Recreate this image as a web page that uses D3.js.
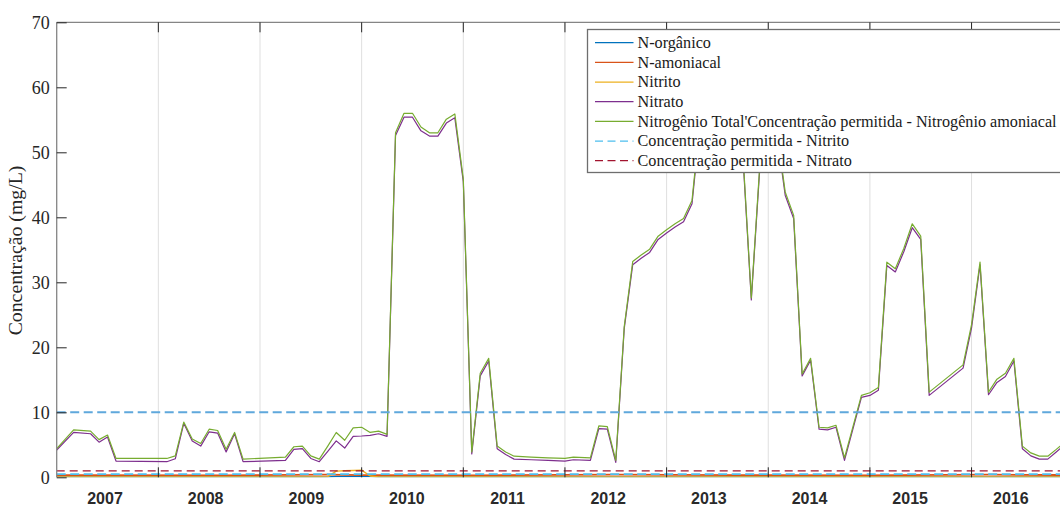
<!DOCTYPE html>
<html>
<head>
<meta charset="utf-8">
<script src="https://cdn.jsdelivr.net/npm/d3@7"></script>
<style>
  html, body { margin: 0; padding: 0; background: #fff; }
  svg { display: block; }
</style>
</head>
<body>
<div id="chart"></div>
<script>
// months counted from Jan 2007
const months = [0, 2, 4, 5, 6, 7, 13, 14, 15, 16, 17, 18, 19, 20, 21, 22, 27, 28, 29, 30,
  31, 32, 33, 34, 35, 36, 37, 38, 39, 40, 41, 42, 43, 44, 45, 46, 47, 48, 49, 50,
  51, 52, 53, 54, 56, 58, 60, 61, 63, 64, 65, 66, 67, 68, 69, 70, 71, 72, 73, 74,
  75, 76, 77, 78, 79, 80, 81, 82, 83, 84, 85, 86, 87, 88, 89, 90, 91, 92, 93, 95,
  96, 97, 98, 99, 100, 101, 102, 103, 107, 108, 109, 110, 111, 112, 113, 114, 115, 116, 117, 118, 119]

const nitrogenioTotal = [4.4, 7.3, 7.1, 5.8, 6.5, 2.9, 2.9, 3.3, 8.5, 5.9, 5.2, 7.4, 7.2, 4.3, 6.9, 2.8, 3.1, 4.7, 4.8, 3.3,
  2.8, 4.8, 6.9, 5.7, 7.6, 7.7, 6.9, 7.1, 6.6, 53.0, 56.0, 56.0, 53.9, 53.0, 53.0, 55.1, 55.9, 45.9, 3.9, 16.0,
  18.3, 4.8, 3.9, 3.25, 3.1, 3.0, 2.9, 3.1, 3.0, 7.9, 7.8, 2.6, 23.2, 33.2, 34.2, 35.1, 37.1, 38.1, 39.0, 39.8,
  42.6, 55.5, 57, 58, 56, 54, 50, 27.6, 48, 52, 53.5, 43.9, 40.3, 15.9, 18.3, 7.7, 7.6, 8.0, 3.0, 12.6,
  13.0, 13.8, 33.1, 32.1, 35.2, 39.0, 37.1, 13.1, 17.3, 23.5, 33.1, 13.1, 15.1, 16.0, 18.3, 4.8, 3.75, 3.25, 3.25, 4.3, 5.4]

const nitrato = [4.2, 6.9, 6.7, 5.4, 6.2, 2.5, 2.4, 2.85, 8.3, 5.6, 4.8, 7.0, 6.8, 3.9, 6.7, 2.4, 2.6, 4.3, 4.4, 2.9,
  2.4, 4.0, 5.6, 4.5, 6.3, 6.35, 6.45, 6.7, 6.3, 52.6, 55.4, 55.4, 53.3, 52.5, 52.5, 54.5, 55.3, 45.5, 3.6, 15.6,
  17.9, 4.4, 3.5, 2.8, 2.7, 2.6, 2.5, 2.7, 2.6, 7.5, 7.4, 2.3, 22.9, 32.7, 33.7, 34.6, 36.6, 37.6, 38.5, 39.3,
  42.1, 55.0, 56.5, 57.5, 55.5, 53.5, 49.5, 27.3, 47.5, 51.5, 53.0, 43.4, 39.8, 15.6, 18.0, 7.4, 7.3, 7.7, 2.6, 12.3,
  12.6, 13.4, 32.6, 31.6, 34.7, 38.4, 36.6, 12.6, 16.8, 23.0, 32.7, 12.7, 14.6, 15.5, 17.9, 4.4, 3.3, 2.8, 2.8, 3.9, 5.0]

const organicoMonths = [0, 32, 33, 37, 38, 119]
const nOrganico = [0.05, 0.05, 0.12, 0.12, 0.05, 0.05]

const amoniacalMonths = [0, 20, 32, 36, 50, 66, 80, 95, 110, 119]
const nAmoniacal = [0.35, 0.3, 0.4, 0.35, 0.3, 0.4, 0.35, 0.3, 0.4, 0.35]

const nitritoMonths = [0, 31, 32, 33, 34, 35, 36, 37, 38, 119]
const nitrito = [0.05, 0.05, 0.1, 0.95, 1.0, 1.05, 1.1, 0.2, 0.05, 0.05]

const limitValues = [10, 0.5, 1.0]
const years = [2007, 2008, 2009, 2010, 2011, 2012, 2013, 2014, 2015, 2016]
const yTicks = [0, 10, 20, 30, 40, 50, 60, 70]

const legendLabels = ['N-orgânico', 'N-amoniacal', 'Nitrito', 'Nitrato',
  "Nitrogênio Total'Concentração permitida - Nitrogênio amoniacal",
  'Concentração permitida - Nitrito', 'Concentração permitida - Nitrato']

const colors = {
  organico: '#0072BD',
  amoniacal: '#D95319',
  nitrito: '#EDB120',
  nitrato: '#7E2F8E',
  total: '#77AC30',
  limNitrito: '#4DBEEE',
  limNitrato: '#A2142F',
  lim10: '#5FA8DC'
}

const margin = { top: 22.3, right: 0, bottom: 30.7, left: 56.7 }
const svgWidth = 1060
const svgHeight = 508
const width = 1016.5
const height = svgHeight - margin.top - margin.bottom

const svg = d3.select('#chart')
  .append('svg')
  .attr('width', svgWidth)
  .attr('height', svgHeight)
  .append('g')
  .attr('transform', `translate(${margin.left},${margin.top})`)

const x = d3.scaleLinear().domain([0, 120]).range([0, width])
const y = d3.scaleLinear().domain([0, 70]).range([height, 0])
const labelX = d3.scaleLinear().domain([2007, 2016]).range([48.3, 954.1])

const serif = "'Liberation Serif', 'Times New Roman', serif"
const sans = "'Liberation Sans', Arial, sans-serif"

svg.append('clipPath').attr('id', 'clip')
  .append('rect').attr('width', width).attr('height', height)

// vertical year grid
const yearStarts = years.slice(1).map((d, i) => (i + 1) * 12)
svg.append('g')
  .selectAll('line')
  .data(yearStarts)
  .enter()
  .append('line')
  .attr('x1', d => x(d)).attr('x2', d => x(d))
  .attr('y1', 0).attr('y2', height)
  .attr('stroke', '#dfdfdf')
  .attr('stroke-width', 1)

const line = d3.line().x(d => x(d[0])).y(d => y(d[1]))
const plot = svg.append('g').attr('clip-path', 'url(#clip)')

const series = [
  { m: organicoMonths, v: nOrganico, c: colors.organico, w: 1.4 },
  { m: amoniacalMonths, v: nAmoniacal, c: colors.amoniacal, w: 1.8 },
  { m: nitritoMonths, v: nitrito, c: colors.nitrito, w: 1.4 },
  { m: months, v: nitrato, c: colors.nitrato, w: 1.2 },
  { m: months, v: nitrogenioTotal, c: colors.total, w: 1.2 }
]

series.forEach(s => {
  plot.append('path')
    .datum(s.m.map((d, i) => [d, s.v[i]]))
    .attr('d', line)
    .attr('fill', 'none')
    .attr('stroke', s.c)
    .attr('stroke-width', s.w)
    .attr('stroke-linejoin', 'round')
})

const limits = [
  { v: limitValues[0], c: colors.lim10, w: 2, dash: '9,4.5' },
  { v: limitValues[1], c: colors.limNitrito, w: 1.8, dash: '9,4.5' },
  { v: limitValues[2], c: colors.limNitrato, w: 1.3, dash: '8,5' }
]

plot.selectAll('.limit')
  .data(limits)
  .enter()
  .append('line')
  .attr('x1', 0).attr('x2', width)
  .attr('y1', d => y(d.v)).attr('y2', d => y(d.v))
  .attr('stroke', d => d.c)
  .attr('stroke-width', d => d.w)
  .attr('stroke-dasharray', d => d.dash)

// axes frame
svg.append('line').attr('x1', 0).attr('x2', width).attr('y1', 0).attr('y2', 0)
  .attr('stroke', '#858585').attr('stroke-width', 1.3)
svg.append('line').attr('x1', 0).attr('x2', 0).attr('y1', 0).attr('y2', height)
  .attr('stroke', '#858585').attr('stroke-width', 1.3)

const yAxis = svg.append('g')
  .call(d3.axisLeft(y).tickValues(yTicks).tickSizeInner(-10).tickSizeOuter(0).tickPadding(7))
yAxis.select('.domain').remove()
yAxis.selectAll('line').attr('stroke', '#262626')
yAxis.selectAll('text')
  .attr('font-family', serif)
  .attr('font-size', '18px')
  .attr('fill', '#262626')

const tickGroup = svg.append('g')
tickGroup.selectAll('.top')
  .data(yearStarts)
  .enter()
  .append('line')
  .attr('x1', d => x(d)).attr('x2', d => x(d))
  .attr('y1', 0).attr('y2', 10)
  .attr('stroke', '#262626')
tickGroup.selectAll('.bottom')
  .data(yearStarts)
  .enter()
  .append('line')
  .attr('x1', d => x(d)).attr('x2', d => x(d))
  .attr('y1', height - 10).attr('y2', height)
  .attr('stroke', '#262626')

svg.append('g')
  .selectAll('text')
  .data(years)
  .enter()
  .append('text')
  .text(d => d)
  .attr('x', d => labelX(d))
  .attr('y', height + 26.7)
  .attr('text-anchor', 'middle')
  .attr('font-family', sans)
  .attr('font-size', '16px')
  .attr('font-weight', 'bold')
  .attr('fill', '#2a2a2a')

svg.append('text')
  .text('Concentração (mg/L)')
  .attr('transform', `translate(${-35.2},${height / 2 + 0.7}) rotate(-90)`)
  .attr('text-anchor', 'middle')
  .attr('font-family', serif)
  .attr('font-size', '19.8px')
  .attr('fill', '#262626')

// legend
const legendColors = [colors.organico, colors.amoniacal, colors.nitrito, colors.nitrato,
  colors.total, colors.limNitrito, colors.limNitrato]
const legend = svg.append('g').attr('transform', `translate(${587.5 - margin.left},${29.5 - margin.top})`)
legend.append('rect')
  .attr('width', 520).attr('height', 143)
  .attr('fill', '#fff')
  .attr('stroke', '#6e6e6e')
  .attr('stroke-width', 1.3)

const items = legend.selectAll('.item')
  .data(legendLabels)
  .enter()
  .append('g')
  .attr('transform', (d, i) => `translate(0,${13.2 + i * 19.67})`)

items.append('line')
  .attr('x1', 7.5).attr('x2', 46)
  .attr('stroke', (d, i) => legendColors[i])
  .attr('stroke-width', 1.2)
  .attr('stroke-dasharray', (d, i) => (i > 4 ? '8,4.5' : null))

items.append('text')
  .text(d => d)
  .attr('x', 50)
  .attr('dy', '0.33em')
  .attr('font-family', serif)
  .attr('font-size', '16.2px')
  .attr('fill', '#1a1a1a')
</script>
</body>
</html>
